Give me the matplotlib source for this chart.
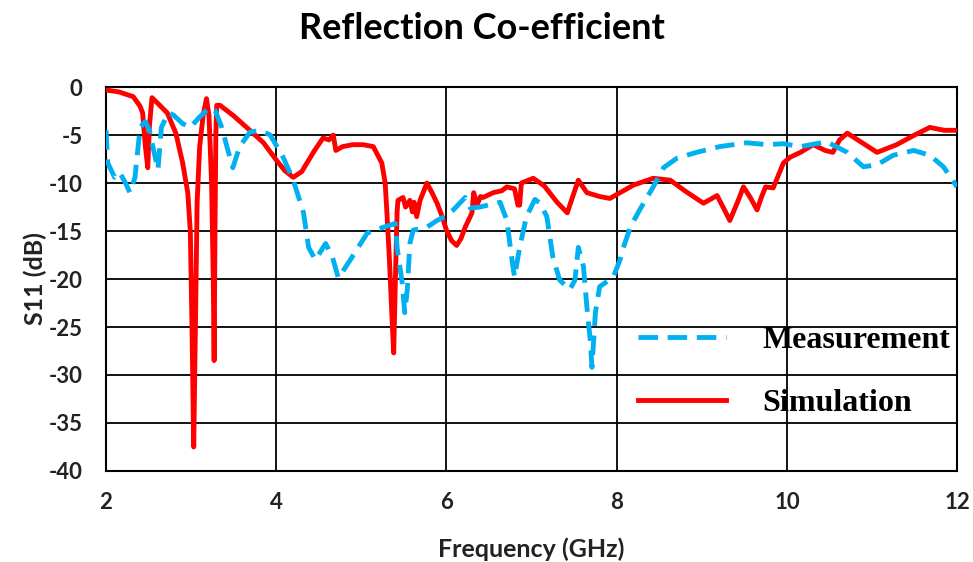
import matplotlib
matplotlib.use("Agg")
import matplotlib.pyplot as plt

plt.rcParams["axes.unicode_minus"] = False

# Simulation (red, solid)
sim_freq = [2.0, 2.15, 2.32, 2.40, 2.43, 2.46, 2.49, 2.51, 2.54, 2.62, 2.72, 2.82, 2.90, 2.96,
            2.99, 3.01, 3.03, 3.05, 3.07, 3.10, 3.14, 3.18, 3.21, 3.24, 3.26, 3.27, 3.28, 3.29,
            3.30, 3.34, 3.50, 3.69, 3.85, 4.0, 4.1, 4.2, 4.3, 4.45, 4.55, 4.62, 4.67, 4.70,
            4.78, 4.9, 5.02, 5.14, 5.24, 5.28, 5.30, 5.33, 5.36, 5.38, 5.40, 5.42, 5.43, 5.49,
            5.52, 5.57, 5.60, 5.62, 5.65, 5.69, 5.77, 5.83, 5.89, 5.95, 6.0, 6.06, 6.12, 6.17,
            6.22, 6.30, 6.32, 6.36, 6.40, 6.43, 6.55, 6.65, 6.71, 6.80, 6.84, 6.86, 6.88, 7.02,
            7.15, 7.30, 7.42, 7.48, 7.55, 7.65, 7.8, 7.92, 8.04, 8.20, 8.43, 8.63, 8.80, 9.02,
            9.18, 9.25, 9.33, 9.42, 9.49, 9.57, 9.65, 9.70, 9.75, 9.84, 9.96, 10.04, 10.16,
            10.31, 10.45, 10.54, 10.62, 10.71, 10.85, 11.06, 11.29, 11.50, 11.68, 11.85, 12.0]
sim_s11 = [-0.3, -0.5, -1.0, -2.0, -2.7, -6.0, -8.4, -4.0, -1.1, -1.8, -2.7, -4.8, -7.9, -11,
           -15, -25, -37.5, -25, -12, -6.2, -3.0, -1.2, -3.0, -10, -20, -28.5, -15, -5,
           -1.9, -1.9, -3.0, -4.5, -5.8, -7.6, -8.7, -9.4, -8.8, -6.6, -5.3, -5.5, -5.0, -6.6,
           -6.2, -6.0, -6.0, -6.2, -7.9, -10, -13, -18, -24, -27.7, -20, -13, -11.8, -11.5,
           -12.5, -11.8, -13, -12.0, -13.5, -11.8, -10.0, -11, -12.1, -13.5, -14.9, -16, -16.5, -15.8,
           -14.6, -13.1, -11.0, -12.3, -11.4, -11.5, -11.0, -10.8, -10.4, -10.6, -12.3, -12.3, -10.0, -9.5,
           -10.3, -12.0, -13.1, -11.5, -9.7, -11.0, -11.4, -11.6, -11.0, -10.2, -9.5, -9.7, -10.8, -12.1,
           -11.3, -12.5, -13.9, -12.0, -10.4, -11.5, -12.8, -11.5, -10.4, -10.5, -7.9, -7.3, -6.8,
           -6.0, -6.6, -6.8, -5.5, -4.8, -5.6, -6.8, -6.0, -5.0, -4.2, -4.5, -4.5]

# Measurement (blue, dashed)
meas_freq = [2.0, 2.02, 2.10, 2.16, 2.23, 2.28, 2.34, 2.40, 2.46, 2.51, 2.55, 2.61, 2.65, 2.73,
             2.79, 2.90, 2.99, 3.10, 3.22, 3.28, 3.36, 3.42, 3.49, 3.57, 3.69, 3.81, 3.93, 4.08,
             4.20, 4.32, 4.38, 4.46, 4.58, 4.66, 4.73, 4.87, 5.07, 5.26, 5.40, 5.42, 5.48, 5.51,
             5.54, 5.57, 5.61, 5.77, 5.89, 6.00, 6.08, 6.22, 6.28, 6.39, 6.63, 6.71, 6.77, 6.80,
             6.86, 6.94, 7.04, 7.10, 7.18, 7.25, 7.33, 7.45, 7.51, 7.55, 7.61, 7.65, 7.69, 7.71,
             7.75, 7.80, 7.96, 8.04, 8.08, 8.16, 8.27, 8.43, 8.55, 8.71, 8.94, 9.21, 9.53, 9.77,
             9.96, 10.16, 10.47, 10.71, 10.90, 11.06, 11.25, 11.49, 11.68, 11.84, 12.0]
meas_s11 = [-4.5, -7.9, -9.4, -8.9, -10, -11.0, -9.4, -4.2, -3.6, -4.5, -6.2, -8.6, -4.2, -2.7,
            -2.9, -3.8, -4.2, -3.1, -2.1, -2.4, -4.2, -6.2, -8.4, -6.2, -4.7, -4.5, -5.0, -7.3,
            -9.7, -13.1, -16.7, -18.0, -16.3, -17.7, -19.9, -18.0, -15.2, -14.6, -14.2, -16.7, -20.4, -23.5,
            -21.1, -16.3, -14.9, -14.6, -13.9, -13.4, -12.8, -11.5, -12.6, -12.5, -12.0, -13.9, -18.0, -19.8,
            -16.7, -13.5, -11.7, -12.1, -13.5, -17.7, -20.1, -21.1, -20.1, -16.7, -18.7, -22.9, -26.4, -29.2,
            -23.5, -20.8, -19.8, -18.0, -16.7, -14.6, -12.8, -10.4, -8.4, -7.4, -6.8, -6.2, -5.8, -6.0,
            -5.9, -6.2, -5.7, -6.8, -8.3, -8.1, -7.1, -6.6, -7.1, -8.3, -10.4]

x_ticks = [2, 4, 6, 8, 10, 12]
y_ticks = [0, -5, -10, -15, -20, -25, -30, -35, -40]

title = "Reflection Co-efficient"
xlabel = "Frequency (GHz)"
ylabel = "S11 (dB)"

SANS = ["Lato", "DejaVu Sans"]
SERIF = ["Liberation Serif", "DejaVu Serif"]

fig = plt.figure(figsize=(9.73, 5.62), dpi=100)
ax = fig.add_axes([0.109, 0.162, 0.8746, 0.683])

ax.plot(sim_freq, sim_s11, color="#FF0000", lw=3.5, solid_joinstyle="round",
        label="Simulation", zorder=3)
ax.plot(meas_freq, meas_s11, color="#00B0F0", lw=3.5, linestyle=(0, (4, 2)),
        label="Measurement", zorder=4)

ax.set_xlim(2, 12)
ax.set_ylim(-40, 0)
ax.set_xticks(x_ticks)
ax.set_yticks(y_ticks)
ax.grid(True, color="black", lw=1.3)
ax.set_axisbelow(True)
for s in ax.spines.values():
    s.set_color("black")
    s.set_linewidth(1.5)
ax.tick_params(axis="x", length=0, pad=15)
ax.tick_params(axis="y", length=0, pad=17)
for lab in ax.get_xticklabels() + ax.get_yticklabels():
    lab.set_fontfamily(SANS)
    lab.set_fontweight("bold")
    lab.set_fontsize(16)
    lab.set_color("#222222")

ax.set_xlabel(xlabel, fontsize=18, fontweight="bold", family=SANS, labelpad=18, color="#222222")
ax.set_ylabel(ylabel, fontsize=18, fontweight="bold", family=SANS, labelpad=1, color="#222222")
fig.text(0.495, 0.95, title, ha="center", va="center", fontsize=26,
         fontweight="bold", family=SANS)

handles, labels = ax.get_legend_handles_labels()
leg = ax.legend(handles[::-1], labels[::-1], loc="upper left", bbox_to_anchor=(0.606, 0.42),
                frameon=False, prop={"family": SERIF, "weight": "bold", "size": 23},
                handlelength=2.75, handletextpad=1.15, labelspacing=1.05, borderpad=0)

fig.savefig("out.png", dpi=100, facecolor="white")
